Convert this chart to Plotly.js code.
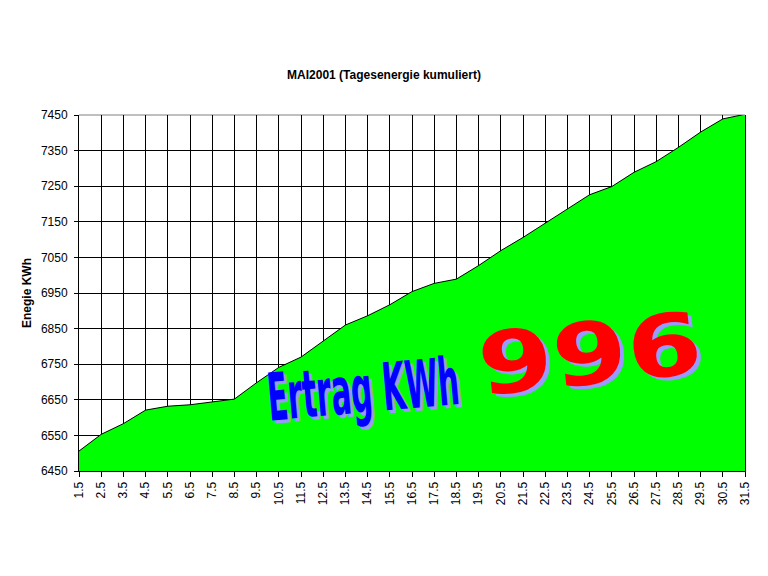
<!DOCTYPE html>
<html>
<head>
<meta charset="utf-8">
<script src="https://cdn.plot.ly/plotly-3.0.1.min.js"></script>
<style>
html,body{margin:0;padding:0;background:#fff;}
#chart{width:768px;height:576px;}
</style>
</head>
<body>
<div id="chart"></div>
<script>
var days = ['1.5','2.5','3.5','4.5','5.5','6.5','7.5','8.5','9.5','10.5','11.5','12.5','13.5','14.5','15.5','16.5','17.5','18.5','19.5','20.5','21.5','22.5','23.5','24.5','25.5','26.5','27.5','28.5','29.5','30.5','31.5'];
var energy = [6506,6553,6583,6621,6632,6636,6644,6652,6698,6741,6770,6814,6860,6886,6917,6954,6977,6989,7027,7069,7106,7146,7186,7226,7249,7289,7319,7359,7402,7439,7452];
var yTicks = [6450,6550,6650,6750,6850,6950,7050,7150,7250,7350,7450];
var chartTitle = 'MAI2001 (Tagesenergie kumuliert)';
var yTitle = 'Enegie KWh';
var labelText = 'Ertrag KWh';
var totalText = '996';

var baseFont = 'Liberation Sans, Arial, sans-serif';
var narrowFont = 'Liberation Sans Narrow, DejaVu Sans Condensed, Arial Narrow, sans-serif';
var heavyFont = 'DejaVu Sans, Liberation Sans, sans-serif';

var trace = {
  x: days,
  y: energy,
  type: 'scatter',
  mode: 'lines',
  fill: 'tozeroy',
  fillcolor: '#00ff00',
  line: {color: '#000000', width: 1},
  hoverinfo: 'skip'
};

function ann(text, x, y, dx, dy, angle, family, size, color) {
  return {text: '<b>' + text + '</b>', xref: 'paper', yref: 'paper', x: x, y: y,
    xanchor: 'center', yanchor: 'middle', xshift: dx, yshift: dy,
    showarrow: false, textangle: angle,
    font: {family: family, size: size, color: color}};
}

var layout = {
  width: 768,
  height: 576,
  paper_bgcolor: '#ffffff',
  plot_bgcolor: '#ffffff',
  showlegend: false,
  margin: {l: 79, r: 23, t: 115, b: 105, pad: 0},
  title: {
    text: '<b>' + chartTitle + '</b>',
    font: {family: baseFont, size: 12, color: '#000'},
    x: 0.5, xref: 'container', xanchor: 'center',
    y: 1 - 75/576, yref: 'container', yanchor: 'middle'
  },
  xaxis: {
    type: 'category',
    range: [0, days.length - 1],
    showgrid: true, gridcolor: '#000000', gridwidth: 1,
    showline: true, linecolor: '#000000', linewidth: 1,
    ticks: 'outside', ticklen: 5, tickcolor: '#000', tickwidth: 1,
    tickangle: -90,
    tickfont: {family: baseFont, size: 12, color: '#000'},
    zeroline: false, automargin: false, fixedrange: true
  },
  yaxis: {
    range: [6450, 7450],
    tickvals: yTicks,
    ticktext: yTicks.map(String),
    showgrid: true, gridcolor: '#000000', gridwidth: 1,
    showline: true, linecolor: '#000000', linewidth: 1, mirror: true,
    ticks: 'outside', ticklen: 4, tickcolor: '#000', tickwidth: 1,
    ticklabelstandoff: 4,
    tickfont: {family: baseFont, size: 12, color: '#000'},
    title: {text: '<b>' + yTitle + '</b>', font: {family: baseFont, size: 12, color: '#000'}, standoff: 6},
    zeroline: false, automargin: false, fixedrange: true
  },
  shapes: [
    {type: 'line', xref: 'paper', yref: 'paper', x0: 0, x1: 1, y0: 1, y1: 1,
     line: {color: '#808080', width: 1}, layer: 'below'}
  ],
  annotations: [
    ann(labelText, 0.426, 0.229, 3, -3, -5, narrowFont, 33, '#9999ff'),
    ann(labelText, 0.426, 0.229, 0, 0, -5, narrowFont, 33, '#0000ff'),
    ann(totalText, 0.767, 0.330, 4, -3, -6, heavyFont, 86, '#9999ff'),
    ann(totalText, 0.767, 0.330, 0, 0, -6, heavyFont, 86, '#ff0000')
  ]
};

Plotly.newPlot('chart', [trace], layout, {staticPlot: true, displayModeBar: false}).then(function(gd){
  var scales = ['scale(1,2.0)', 'scale(1,2.0)', 'scale(1.25,1)', 'scale(1.25,1)'];
  var anns = gd.querySelectorAll('g.annotation');
  anns.forEach(function(a, i){
    var t = a.querySelector('text.annotation-text');
    if (t && scales[i]) {
      var tr = t.getAttribute('transform') || '';
      var m = tr.match(/translate\(\s*([-\d.e]+)[ ,]+([-\d.e]+)\s*\)/);
      var pre = m ? 'translate(' + m[1] + 'px,' + m[2] + 'px) ' : '';
      t.style.transformBox = 'fill-box';
      t.style.transformOrigin = 'center';
      t.style.transform = pre + scales[i];
    }
  });
});
</script>
</body>
</html>
